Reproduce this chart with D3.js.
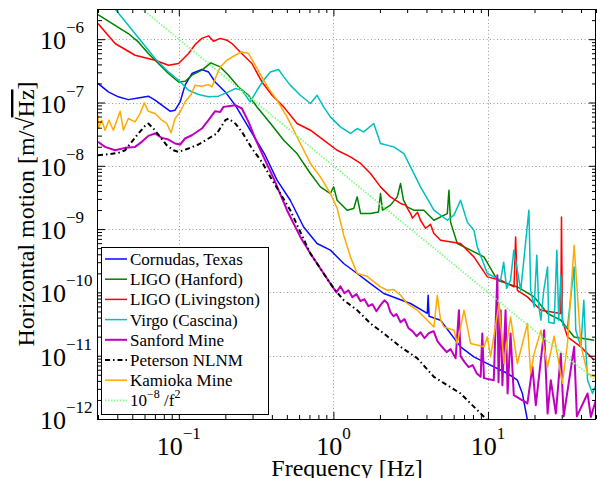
<!DOCTYPE html>
<html>
<head>
<meta charset="utf-8">
<title>horizontal motion spectra</title>
<script src="https://d3js.org/d3.v7.min.js"></script>
<style>
  body { margin: 0; background: #fff; }
</style>
</head>
<body>
<svg id="chart"></svg>
<script>
// [frequency in Hz, amplitude in m/sqrt(Hz)]
var cornudas = [[0.03,2.0e-7],[0.035,1.47e-7],[0.0406,1.23e-7],[0.0471,1.11e-7],[0.0547,1.18e-7],[0.0635,1.26e-7],[0.0702,1.09e-7],[0.0776,9.06e-8],[0.0877,7.29e-8],[0.0946,7.55e-8],[0.102,1.02e-7],[0.1097,1.88e-7],[0.1215,2.87e-7],[0.141,3.32e-7],[0.1556,3.04e-7],[0.1718,2.11e-7],[0.1997,1.47e-7],[0.2317,9.06e-8],[0.269,4.94e-8],[0.312,2.70e-8],[0.362,1.47e-8],[0.432,5.93e-9],[0.526,2.86e-9],[0.642,1.08e-9],[0.784,5.93e-10],[0.956,4.65e-10],[1.166,2.86e-10],[1.425,1.99e-10],[1.738,1.38e-10],[2.12,9.6e-11],[2.59,8.0e-11],[3.155,6.68e-11],[4.05,4.65e-11],[4.1,9.0e-11],[4.16,4.2e-11],[4.94,3.64e-11],[6.65,1.38e-11],[8.11,9.6e-12],[9.91,7.5e-12],[13.4,5.24e-12],[15.5,4.1e-12],[16.7,2.53e-12],[18.0,9.6e-13]];

var hanford = [[0.03,2.45e-6],[0.0387,1.66e-6],[0.0471,1.23e-6],[0.0547,9.06e-7],[0.0635,5.94e-7],[0.0738,4.13e-7],[0.0857,2.87e-7],[0.0996,2.11e-7],[0.110,2.17e-7],[0.1215,2.70e-7],[0.141,3.24e-7],[0.161,4.22e-7],[0.1853,3.65e-7],[0.2096,2.70e-7],[0.2433,1.76e-7],[0.2825,1.30e-7],[0.3204,8.5e-8],[0.391,4.7e-8],[0.477,2.54e-8],[0.582,1.56e-8],[0.710,7.55e-9],[0.824,4.65e-9],[0.956,3.65e-9],[1.004,4.65e-9],[1.057,2.86e-9],[1.227,1.99e-9],[1.354,2.11e-9],[1.425,3.23e-9],[1.50,1.76e-9],[1.738,1.76e-9],[1.958,1.87e-9],[2.017,3.65e-9],[2.08,1.99e-9],[2.34,2.39e-9],[2.59,3.23e-9],[2.72,5.25e-9],[2.84,2.86e-9],[3.0,2.24e-9],[3.31,1.99e-9],[3.85,1.99e-9],[4.47,1.38e-9],[5.46,1.76e-9],[5.59,4.12e-9],[5.73,1.29e-9],[6.33,5.93e-10],[7.72,4.65e-10],[9.42,3.64e-10],[11.5,1.56e-10],[15.5,1.22e-10],[19.9,8.5e-11],[24.3,4.64e-11],[29.6,3.64e-11],[36.1,1.98e-11],[48.7,1.76e-11]];

var livingston = [[0.03,1.77e-6],[0.0387,8.55e-7],[0.0521,5.58e-7],[0.0702,4.66e-7],[0.0857,3.88e-7],[0.0996,4.13e-7],[0.1156,5.94e-7],[0.1276,8.24e-7],[0.141,1.03e-6],[0.1556,1.13e-6],[0.1677,9.3e-7],[0.1853,1.03e-6],[0.2047,9.65e-7],[0.2205,8.55e-7],[0.256,5.9e-7],[0.297,4.13e-7],[0.345,2.11e-7],[0.401,1.30e-7],[0.477,8.53e-8],[0.582,4.66e-8],[0.710,3.65e-8],[0.865,2.54e-8],[1.057,1.76e-8],[1.289,1.38e-8],[1.50,1.09e-8],[1.738,7.55e-9],[2.017,4.65e-9],[2.34,3.23e-9],[2.72,2.54e-9],[2.93,2.39e-9],[3.155,1.76e-9],[3.25,1.49e-9],[3.5,1.85e-9],[3.66,1.38e-9],[3.95,1.03e-9],[4.25,1.19e-9],[4.47,8.5e-10],[4.94,6.68e-10],[6.65,5.93e-10],[8.11,3.64e-10],[9.91,1.76e-10],[12.08,1.56e-10],[14.74,1.22e-10],[15.1,7.53e-10],[15.5,1.08e-10],[18.0,8.5e-11],[22.0,5.24e-11],[29.6,4.64e-11],[29.9,1.56e-9],[30.3,3.64e-11],[32.7,1.98e-11],[39.9,1.38e-11],[48.7,8.5e-12]];

var virgo = [[0.0348,4.13e-6],[0.0471,1.66e-6],[0.0576,9.06e-7],[0.0702,4.96e-7],[0.0857,3.04e-7],[0.0996,2.25e-7],[0.1156,1.56e-7],[0.134,1.34e-7],[0.1556,1.23e-7],[0.1806,1.26e-7],[0.2096,1.47e-7],[0.2317,1.66e-7],[0.256,1.56e-7],[0.290,1.02e-7],[0.3204,1.56e-7],[0.3534,2.25e-7],[0.391,3.04e-7],[0.442,3.32e-7],[0.477,2.54e-7],[0.526,1.88e-7],[0.611,1.30e-7],[0.710,9.64e-8],[0.784,1.30e-7],[0.865,8.53e-8],[0.956,5.93e-8],[1.11,4.12e-8],[1.289,3.24e-8],[1.425,3.88e-8],[1.571,3.43e-8],[1.824,4.66e-8],[2.017,2.25e-8],[2.46,1.99e-8],[2.86,1.56e-8],[3.155,9.6e-9],[3.66,4.65e-9],[4.47,1.99e-9],[5.46,1.38e-9],[6.02,1.66e-9],[6.65,2.86e-9],[7.35,1.29e-9],[8.11,9.6e-10],[8.53,5.24e-10],[9.91,1.99e-10],[12.08,1.56e-10],[12.64,3.0e-10],[13.2,1.16e-10],[14.0,1.56e-10],[14.7,4.65e-10],[16.3,1.08e-10],[18.4,1.99e-9],[18.9,1.08e-10],[19.9,5.9e-11],[20.7,3.87e-10],[21.3,6.3e-11],[22.0,3.64e-11],[22.96,1.08e-10],[24.3,2.53e-10],[24.7,3.38e-11],[26.8,3.23e-11],[27.9,4.65e-10],[28.7,3.64e-11],[29.6,1.87e-10],[30.5,3.03e-11],[32.7,2.85e-11],[36.1,2.53e-10],[37.0,2.53e-11],[39.9,1.38e-11],[41.7,7.5e-11],[43.0,1.22e-11],[44.1,4.1e-12],[47.5,2.53e-12],[51.2,4.1e-12]];

var sanford = [[0.03,2.39e-8],[0.0333,1.99e-8],[0.0387,1.76e-8],[0.0449,1.92e-8],[0.0521,1.99e-8],[0.0576,2.39e-8],[0.0635,2.97e-8],[0.0702,3.24e-8],[0.0776,2.76e-8],[0.0857,2.60e-8],[0.0946,2.25e-8],[0.102,2.17e-8],[0.1097,2.70e-8],[0.1215,3.04e-8],[0.141,3.88e-8],[0.1556,5.25e-8],[0.1718,7.29e-8],[0.1853,7.1e-8],[0.1945,8.53e-8],[0.2096,8.75e-8],[0.2317,9.06e-8],[0.256,8.04e-8],[0.2825,4.94e-8],[0.312,2.70e-8],[0.3534,1.38e-8],[0.410,6.37e-9],[0.501,1.99e-9],[0.611,7.53e-10],[0.710,4.12e-10],[0.865,1.99e-10],[1.004,1.16e-10],[1.046,1.0e-10],[1.11,1.25e-10],[1.178,9.7e-11],[1.251,1.08e-10],[1.327,8.4e-11],[1.409,9.4e-11],[1.496,7.3e-11],[1.588,7.8e-11],[1.686,6.05e-11],[1.789,6.5e-11],[1.899,5.05e-11],[2.017,6.3e-11],[2.14,7.5e-11],[2.239,6.75e-11],[2.34,4.86e-11],[2.448,4.2e-11],[2.56,4.53e-11],[2.72,3.38e-11],[2.885,3.78e-11],[3.06,2.72e-11],[3.25,2.44e-11],[3.45,2.03e-11],[3.66,2.35e-11],[3.89,1.89e-11],[4.13,2.26e-11],[4.45,2.44e-11],[4.72,1.69e-11],[5.01,1.41e-11],[5.40,1.14e-11],[5.73,1.27e-11],[6.18,9.1e-12],[6.49,5.24e-11],[6.65,9.8e-12],[7.06,7.9e-12],[7.5,6.6e-12],[7.96,7.1e-12],[8.45,5.3e-12],[8.97,4.63e-12],[9.19,2.24e-11],[9.42,4.42e-12],[10.9,4.1e-12],[11.5,1.87e-10],[11.7,3.8e-12],[12.08,5.24e-11],[12.4,3.42e-12],[13.0,5.24e-11],[13.4,2.53e-12],[14.0,2.24e-11],[14.7,2.38e-12],[18.0,1.76e-12],[19.4,6.65e-12],[20.4,1.65e-12],[23.1,2.53e-11],[24.3,1.22e-12],[25.5,4.1e-12],[27.5,1.22e-12],[29.6,1.08e-11],[30.9,1.1e-12],[36.1,1.38e-11],[37.6,1.1e-12],[44.1,2.53e-12],[46.3,1.08e-12],[49.9,1.98e-12]];

var nlnm = [[0.03,1.47e-8],[0.035,1.52e-8],[0.0406,1.60e-8],[0.0449,1.76e-8],[0.0496,2.39e-8],[0.0547,3.24e-8],[0.0605,4.27e-8],[0.0635,4.66e-8],[0.0685,3.88e-8],[0.0757,2.86e-8],[0.0836,2.11e-8],[0.0923,1.76e-8],[0.0996,1.66e-8],[0.1156,1.88e-8],[0.134,2.17e-8],[0.1556,2.70e-8],[0.1763,3.24e-8],[0.1997,5.25e-8],[0.2096,5.58e-8],[0.2317,4.66e-8],[0.256,3.43e-8],[0.297,1.88e-8],[0.345,1.15e-8],[0.391,6.68e-9],[0.454,3.65e-9],[0.526,1.99e-9],[0.611,9.0e-10],[0.710,4.12e-10],[0.865,1.99e-10],[1.004,1.16e-10],[1.166,7.53e-11],[1.425,5.24e-11],[1.738,3.23e-11],[2.12,2.24e-11],[2.72,1.38e-11],[3.49,9.1e-12],[4.47,4.63e-12],[6.65,2.53e-12],[9.91,9.6e-13]];

var kamioka = [[0.03,6.3e-8],[0.0301,3.88e-8],[0.0317,5.25e-8],[0.0333,3.65e-8],[0.0353,5.25e-8],[0.0377,3.65e-8],[0.0417,7.29e-8],[0.0438,3.65e-8],[0.0471,5.58e-8],[0.0521,4.94e-8],[0.0561,6.7e-8],[0.0598,9.86e-8],[0.0635,7.29e-8],[0.0702,6.7e-8],[0.0776,5.25e-8],[0.0836,4.66e-8],[0.0891,3.31e-8],[0.0946,5.58e-8],[0.102,7.1e-8],[0.1097,1.02e-7],[0.120,1.34e-7],[0.1276,1.88e-7],[0.141,1.81e-7],[0.1556,1.92e-7],[0.1637,1.76e-7],[0.1738,2.54e-7],[0.1853,3.65e-7],[0.2047,4.66e-7],[0.2317,5.58e-7],[0.256,6.3e-7],[0.2825,5.94e-7],[0.312,3.88e-7],[0.345,2.51e-7],[0.381,1.66e-7],[0.432,1.09e-7],[0.501,5.93e-8],[0.553,3.65e-8],[0.611,2.25e-8],[0.710,1.09e-8],[0.824,6.68e-9],[0.956,3.65e-9],[1.057,2.14e-9],[1.166,8.0e-10],[1.289,3.64e-10],[1.425,1.99e-10],[1.653,1.8e-10],[1.824,1.48e-10],[2.017,1.22e-10],[2.23,1.08e-10],[2.46,1.11e-10],[2.72,9.0e-11],[3.0,6.68e-11],[3.49,5.24e-11],[4.05,3.64e-11],[4.47,2.85e-11],[4.7,9.0e-11],[4.94,3.64e-11],[5.19,2.85e-11],[6.02,2.53e-11],[6.33,1.56e-11],[7.0,5.24e-11],[7.72,1.56e-11],[9.42,1.38e-11],[9.91,1.98e-11],[10.4,9.6e-12],[11.8,6.68e-11],[12.7,7.5e-12],[14.0,4.1e-11],[15.5,7.5e-12],[18.0,3.23e-11],[18.9,5.24e-12],[19.9,1.08e-11],[22.0,2.53e-11],[24.3,6.65e-12],[26.8,2.03e-11],[30.3,3.64e-12],[32.7,1.56e-11],[36.1,5.57e-10],[39.9,1.47e-11],[44.1,5.24e-12],[51.2,4.42e-12]];

// 10^-8 / f^2 reference, end points as drawn
var refLine = [[0.0582,2.95e-6],[50,4e-12]];

var seriesNames = ["Cornudas, Texas", "LIGO (Hanford)", "LIGO (Livingston)", "Virgo (Cascina)",
                   "Sanford Mine", "Peterson NLNM", "Kamioka Mine"];

var xTickLabels = [[0.1, "\u22121"], [1, "0"], [10, "1"]];
var yTickLabels = [[1e-6, "\u22126"], [1e-7, "\u22127"], [1e-8, "\u22128"], [1e-9, "\u22129"],
                   [1e-10, "\u221210"], [1e-11, "\u221211"], [1e-12, "\u221212"]];

var width = 597, height = 478;
var plot = { left: 98, right: 596, top: 9, bottom: 419 };
var serif = "'Liberation Serif', 'DejaVu Serif', serif";

var svg = d3.select("#chart")
  .attr("width", width).attr("height", height)
  .attr("font-family", serif);

var x = d3.scaleLog().domain([0.03, 50]).range([plot.left, plot.right]);
var y = d3.scaleLog().domain([1e-12, 3e-6]).range([plot.bottom, plot.top]);

function isDecade(v) {
  var l = Math.log10(v);
  return Math.abs(l - Math.round(l)) < 1e-6;
}

svg.append("clipPath").attr("id", "clip")
  .append("rect")
  .attr("x", plot.left).attr("y", plot.top)
  .attr("width", plot.right - plot.left).attr("height", plot.bottom - plot.top);

// grid
var grid = svg.append("g")
  .attr("stroke", "#999").attr("stroke-width", 1).attr("stroke-dasharray", "1,2.5");
grid.selectAll(".gx").data(x.ticks().filter(isDecade)).enter().append("line")
  .attr("x1", function(d) { return Math.round(x(d)) + 0.5; })
  .attr("x2", function(d) { return Math.round(x(d)) + 0.5; })
  .attr("y1", plot.top).attr("y2", plot.bottom);
grid.selectAll(".gy").data(y.ticks().filter(isDecade).filter(function(d) { return d > 1e-12; })).enter().append("line")
  .attr("y1", function(d) { return Math.round(y(d)) + 0.5; })
  .attr("y2", function(d) { return Math.round(y(d)) + 0.5; })
  .attr("x1", plot.left).attr("x2", plot.right);

// series
var line = d3.line()
  .x(function(d) { return x(d[0]); })
  .y(function(d) { return y(d[1]); });

var styles = [
  { data: cornudas,   color: "#0a0aff", width: 1.5, dash: null },
  { data: hanford,    color: "#008000", width: 1.5, dash: null },
  { data: livingston, color: "#ff0000", width: 1.5, dash: null },
  { data: virgo,      color: "#00bfbf", width: 1.5, dash: null },
  { data: sanford,    color: "#bf00bf", width: 2,   dash: null },
  { data: nlnm,       color: "#000000", width: 2,   dash: "5,3,1.5,3" },
  { data: kamioka,    color: "#ffaa00", width: 1.5, dash: null },
  { data: refLine,    color: "#80ff80", width: 1.8, dash: "1.5,1.5" }
];

var lines = svg.append("g").attr("clip-path", "url(#clip)");
styles.forEach(function(s) {
  lines.append("path")
    .datum(s.data)
    .attr("fill", "none")
    .attr("stroke", s.color)
    .attr("stroke-width", s.width)
    .attr("stroke-linejoin", "round")
    .attr("stroke-dasharray", s.dash)
    .attr("d", line);
});

// ticks on all four sides, pointing inward
function addAxis(axis, tx, ty) {
  var g = svg.append("g").attr("transform", "translate(" + tx + "," + ty + ")").call(axis);
  g.select(".domain").remove();
  g.selectAll("text").remove();
  g.selectAll("line").attr("stroke", "#000");
}
var xMaj = x.ticks().filter(isDecade), xMin = x.ticks().filter(function(d) { return !isDecade(d); });
var yMaj = y.ticks().filter(isDecade), yMin = y.ticks().filter(function(d) { return !isDecade(d); });

addAxis(d3.axisTop(x).tickValues(xMaj).tickSize(7).tickSizeOuter(0), 0, plot.bottom);
addAxis(d3.axisTop(x).tickValues(xMin).tickSize(4).tickSizeOuter(0), 0, plot.bottom);
addAxis(d3.axisBottom(x).tickValues(xMaj).tickSize(7).tickSizeOuter(0), 0, plot.top);
addAxis(d3.axisBottom(x).tickValues(xMin).tickSize(4).tickSizeOuter(0), 0, plot.top);
addAxis(d3.axisRight(y).tickValues(yMaj).tickSize(7).tickSizeOuter(0), plot.left, 0);
addAxis(d3.axisRight(y).tickValues(yMin).tickSize(4).tickSizeOuter(0), plot.left, 0);
addAxis(d3.axisLeft(y).tickValues(yMaj).tickSize(7).tickSizeOuter(0), plot.right, 0);
addAxis(d3.axisLeft(y).tickValues(yMin).tickSize(4).tickSizeOuter(0), plot.right, 0);

svg.append("rect")
  .attr("x", plot.left - 0.5).attr("y", plot.top + 0.5)
  .attr("width", plot.right - plot.left).attr("height", plot.bottom - plot.top)
  .attr("fill", "none").attr("stroke", "#000").attr("stroke-width", 1);

// tick labels
function powerLabel(sel, exp) {
  sel.append("tspan").attr("font-size", 26).text("10");
  sel.append("tspan").attr("font-size", 17).attr("dy", -16).text(exp);
}
svg.selectAll(".xl").data(xTickLabels).enter().append("text")
  .attr("font-family", serif)
  .attr("x", function(d) { return x(d[0]); })
  .attr("y", 455)
  .attr("text-anchor", "middle")
  .each(function(d) { powerLabel(d3.select(this), d[1]); });

svg.selectAll(".yl").data(yTickLabels).enter().append("text")
  .attr("font-family", serif)
  .attr("x", 40)
  .attr("y", function(d) { return y(d[0]) + 10; })
  .attr("text-anchor", "start")
  .each(function(d) { powerLabel(d3.select(this), d[1]); });

// axis titles
svg.append("text")
  .attr("font-family", serif)
  .attr("x", (plot.left + plot.right) / 2).attr("y", 476)
  .attr("text-anchor", "middle").attr("font-size", 24)
  .text("Frequency [Hz]");

var yt = svg.append("text")
  .attr("font-family", serif)
  .attr("transform", "translate(34," + (plot.top + plot.bottom) / 2 + ") rotate(-90)")
  .attr("text-anchor", "middle").attr("font-size", 24);
yt.append("tspan").text("Horizontal motion [m/\u221A");
yt.append("tspan").style("text-decoration", "overline").text("Hz");
yt.append("tspan").text("]");

// legend
var legend = svg.append("g").attr("font-family", serif);
legend.append("rect")
  .attr("x", 101.5).attr("y", 247.5).attr("width", 167).attr("height", 167)
  .attr("fill", "#fff").attr("stroke", "#000").attr("stroke-width", 1);

var rowY = function(i) { return 259 + i * 20.2; };
styles.forEach(function(s, i) {
  legend.append("line")
    .attr("x1", 105).attr("x2", 127)
    .attr("y1", rowY(i)).attr("y2", rowY(i))
    .attr("stroke", s.color).attr("stroke-width", s.width)
    .attr("stroke-dasharray", s.dash);
  var t = legend.append("text")
    .attr("x", 130).attr("y", rowY(i) + 6).attr("font-size", 17);
  if (i < seriesNames.length) {
    t.text(seriesNames[i]);
  } else {
    t.append("tspan").text("10");
    t.append("tspan").attr("font-size", 12).attr("dy", -8).text("\u22128");
    t.append("tspan").attr("dy", 8).text(" /f");
    t.append("tspan").attr("font-size", 12).attr("dy", -8).text("2");
  }
});
</script>
</body>
</html>
